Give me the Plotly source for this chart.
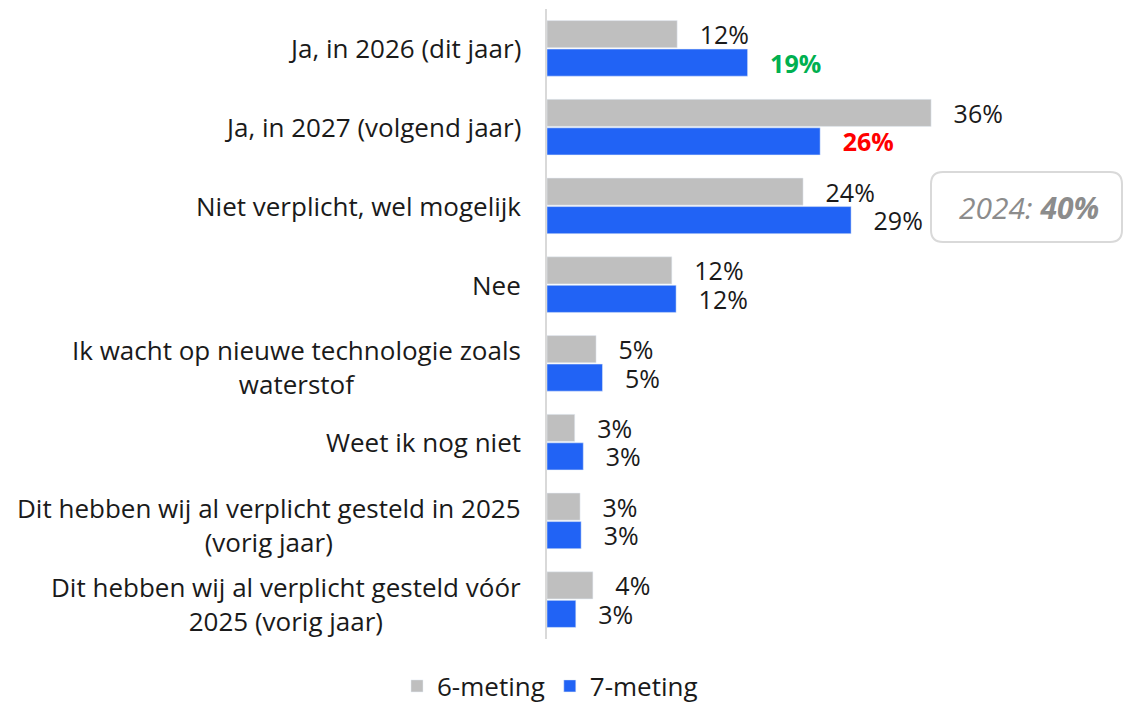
import plotly.graph_objects as go

categories = [
    'Ja, in 2026 (dit jaar)',
    'Ja, in 2027 (volgend jaar)',
    'Niet verplicht, wel mogelijk',
    'Nee',
    'Ik wacht op nieuwe technologie zoals<br>waterstof',
    'Weet ik nog niet',
    'Dit hebben wij al verplicht gesteld in 2025<br>(vorig jaar)',
    'Dit hebben wij al verplicht gesteld vóór<br>2025 (vorig jaar)',
]
meting6 = [12.2, 36.0, 24.0, 11.7, 4.6, 2.6, 3.1, 4.3]
meting7 = [18.8, 25.6, 28.5, 12.1, 5.2, 3.4, 3.2, 2.7]
labels6 = ['12%', '36%', '24%', '12%', '5%', '3%', '3%', '4%']
labels7 = ['<b>19%</b>', '<b>26%</b>', '29%', '12%', '5%', '3%', '3%', '3%']
label7_colors = ['#00b050', '#ff0000', '#1a1a1a', '#1a1a1a', '#1a1a1a', '#1a1a1a', '#1a1a1a', '#1a1a1a']
note_text = '<i>2024: <b>40%</b></i>'

FONT = 'Open Sans'
W, H = 1124, 706
M = dict(l=547, r=0, t=9, b=67)
PW, PH = W - M['l'] - M['r'], H - M['t'] - M['b']

pad = '\u00a0' * 3

fig = go.Figure()
fig.add_trace(go.Bar(
    y=categories, x=meting6, name='6-meting', orientation='h',
    marker_color='#bfbfbf',
    text=[pad + t for t in labels6], textposition='outside',
    textfont=dict(size=25, color='#1a1a1a', family=FONT),
    cliponaxis=False, constraintext='none',
))
fig.add_trace(go.Bar(
    y=categories, x=meting7, name='7-meting', orientation='h',
    marker_color='#2163f5',
    text=[pad + t for t in labels7], textposition='outside',
    textfont=dict(size=25, color=label7_colors, family=FONT),
    cliponaxis=False, constraintext='none',
))

# category labels as annotations so multi-line text is centered
for c in categories:
    fig.add_annotation(
        x=0, y=c, xref='x', yref='y', text=c, showarrow=False,
        xanchor='right', xshift=-24, align='center',
        yshift=-4 if '<br>' in c else 0,
        font=dict(size=26, color='#1a1a1a', family=FONT),
    )


def rounded_rect(x0, y0, x1, y1, r):
    # pixel coords (from top-left of the figure) -> paper coords
    def px(x):
        return (x - M['l']) / PW

    def py(y):
        return (H - M['b'] - y) / PH

    return (f"M {px(x0 + r)} {py(y0)} L {px(x1 - r)} {py(y0)} "
            f"Q {px(x1)} {py(y0)} {px(x1)} {py(y0 + r)} L {px(x1)} {py(y1 - r)} "
            f"Q {px(x1)} {py(y1)} {px(x1 - r)} {py(y1)} L {px(x0 + r)} {py(y1)} "
            f"Q {px(x0)} {py(y1)} {px(x0)} {py(y1 - r)} L {px(x0)} {py(y0 + r)} "
            f"Q {px(x0)} {py(y0)} {px(x0 + r)} {py(y0)} Z")


fig.add_shape(type='path', xref='paper', yref='paper',
              path=rounded_rect(931, 172, 1122, 242, 12),
              line=dict(color='#d9d9d9', width=2), fillcolor='white')
fig.add_annotation(
    x=(1029 - M['l']) / PW, y=(H - M['b'] - 207) / PH, xref='paper', yref='paper',
    text=note_text, showarrow=False, xanchor='center', yanchor='middle',
    font=dict(size=30, color='#8c8c8c', family=FONT),
)

fig.update_layout(
    width=W, height=H, margin=dict(**M, autoexpand=False),
    barmode='group', bargap=0.276, bargroupgap=0.05,
    plot_bgcolor='white', paper_bgcolor='white',
    font=dict(family=FONT, size=26, color='#1a1a1a'),
    showlegend=True,
    legend=dict(orientation='h', x=(550 - M['l']) / PW, xanchor='center',
                y=-(686 - (H - M['b'])) / PH, yanchor='middle',
                font=dict(size=26), traceorder='normal'),
)
fig.update_xaxes(visible=False, range=[0, PW / 10.67], fixedrange=True)
fig.update_yaxes(autorange='reversed', showticklabels=False, showgrid=False,
                 zeroline=False, showline=True, linecolor='#d9d9d9', linewidth=2,
                 ticks='', fixedrange=True)

fig.write_html('out.html', config={'displayModeBar': False},
               post_script="document.body.style.margin='0px';")
